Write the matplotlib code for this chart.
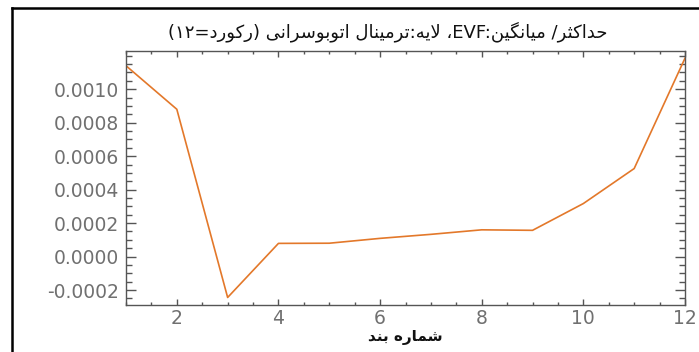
import matplotlib
matplotlib.use("Agg")
import matplotlib.pyplot as plt
from matplotlib.ticker import MultipleLocator, FixedLocator, FormatStrFormatter
from matplotlib.lines import Line2D

# ---- data ----
band = [1, 2, 3, 4, 5, 6, 7, 8, 9, 10, 11, 12]
values = [0.00114, 0.00088, -0.000244, 0.000079, 0.00008, 0.000109,
          0.000133, 0.00016, 0.000157, 0.000317, 0.000526, 0.001185]
y_ticks = [-0.0002, 0.0, 0.0002, 0.0004, 0.0006, 0.0008, 0.0010]
x_ticks = [2, 4, 6, 8, 10, 12]
title_text = "حداکثر/ میانگین:EVF، لایه:ترمینال اتوبوسرانی (رکورد=۱۲)"
xlabel_text = "شماره بند"

# ---- minimal Arabic/Persian shaping + bidi (matplotlib has no complex text layout) ----
FORMS = {
    'ا': ('\uFE8D', '\uFE8E', None, None),
    'ب': ('\uFE8F', '\uFE90', '\uFE91', '\uFE92'),
    'ت': ('\uFE95', '\uFE96', '\uFE97', '\uFE98'),
    'ث': ('\uFE99', '\uFE9A', '\uFE9B', '\uFE9C'),
    'ح': ('\uFEA1', '\uFEA2', '\uFEA3', '\uFEA4'),
    'د': ('\uFEA9', '\uFEAA', None, None),
    'ر': ('\uFEAD', '\uFEAE', None, None),
    'س': ('\uFEB1', '\uFEB2', '\uFEB3', '\uFEB4'),
    'ش': ('\uFEB5', '\uFEB6', '\uFEB7', '\uFEB8'),
    'ل': ('\uFEDD', '\uFEDE', '\uFEDF', '\uFEE0'),
    'م': ('\uFEE1', '\uFEE2', '\uFEE3', '\uFEE4'),
    'ن': ('\uFEE5', '\uFEE6', '\uFEE7', '\uFEE8'),
    'ه': ('\uFEE9', '\uFEEA', '\uFEEB', '\uFEEC'),
    'و': ('\uFEED', '\uFEEE', None, None),
    'ی': ('\uFBFC', '\uFBFD', '\uFBFE', '\uFBFF'),
    'ک': ('\uFB8E', '\uFB8F', '\uFB90', '\uFB91'),
    'گ': ('\uFB92', '\uFB93', '\uFB94', '\uFB95'),
}


def dual(c):
    return c in FORMS and FORMS[c][2] is not None


def shape(s):
    out = []
    i = 0
    n = len(s)
    while i < n:
        c = s[i]
        if c not in FORMS:
            out.append(c)
            i += 1
            continue
        prev = s[i - 1] if i > 0 else ''
        cp = dual(prev)
        if c == 'ل' and i + 1 < n and s[i + 1] == 'ا':
            out.append('\uFEFC' if cp else '\uFEFB')
            i += 2
            continue
        nxt = s[i + 1] if i + 1 < n else ''
        cn = dual(c) and nxt in FORMS
        iso, fin, ini, med = FORMS[c]
        if cp and cn:
            out.append(med)
        elif cp:
            out.append(fin)
        elif cn:
            out.append(ini)
        else:
            out.append(iso)
        i += 1
    return out


def is_ltr(c):
    return (c.isascii() and c.isalnum()) or ('\u06F0' <= c <= '\u06F9')


MIRROR = {'(': ')', ')': '('}


def rtl(s):
    glyphs = shape(s)
    runs = []
    cur = []
    cur_ltr = None
    for g in glyphs:
        l = is_ltr(g)
        if cur and l != cur_ltr:
            runs.append((cur_ltr, cur))
            cur = []
        cur.append(g)
        cur_ltr = l
    if cur:
        runs.append((cur_ltr, cur))
    vis = []
    for l, r in reversed(runs):
        if l:
            vis.extend(r)
        else:
            vis.extend(MIRROR.get(g, g) for g in reversed(r))
    return ''.join(vis)


# ---- figure ----
W, H = 699, 352
fig = plt.figure(figsize=(W / 100, H / 100), dpi=100)
ax = fig.add_axes([126 / W, 1 - 305 / H, (685 - 126) / W, (305 - 51) / H])

ax.plot(band, values, color='#e3782a', lw=1.2)

ax.set_xlim(1, 12)
ax.set_ylim(-0.000289, 0.001228)
ax.xaxis.set_major_locator(FixedLocator(x_ticks))
ax.xaxis.set_minor_locator(MultipleLocator(0.5))
ax.yaxis.set_major_locator(FixedLocator(y_ticks))
ax.yaxis.set_minor_locator(MultipleLocator(0.00005))
ax.yaxis.set_major_formatter(FormatStrFormatter('%.4f'))

spine_c = '#555555'
for sp in ax.spines.values():
    sp.set_color(spine_c)
    sp.set_linewidth(1.0)

ax.tick_params(axis='both', which='both', direction='in', colors=spine_c,
               labelcolor='#707070', labelsize=13.5, top=True, right=True, width=1.0)
ax.tick_params(axis='y', which='major', length=7, pad=5)
ax.tick_params(axis='y', which='minor', length=4.5)
ax.tick_params(axis='x', which='major', length=4, pad=3)
ax.tick_params(axis='x', which='minor', length=2.5)

ax.set_xlabel(rtl(xlabel_text), fontsize=11, fontweight='bold', color='#111111', labelpad=1)
fig.text(388 / W, 1 - 32 / H, rtl(title_text), ha='center', va='center',
         fontsize=13, color='#111111')

# outer frame lines (left and top)
fig.add_artist(Line2D([12 / W, 12 / W], [0, 1 - 8 / H], transform=fig.transFigure,
                      color='black', lw=1.8))
fig.add_artist(Line2D([12 / W, 1], [1 - 8 / H, 1 - 8 / H], transform=fig.transFigure,
                      color='black', lw=1.8))

fig.savefig('out.png', dpi=100)
